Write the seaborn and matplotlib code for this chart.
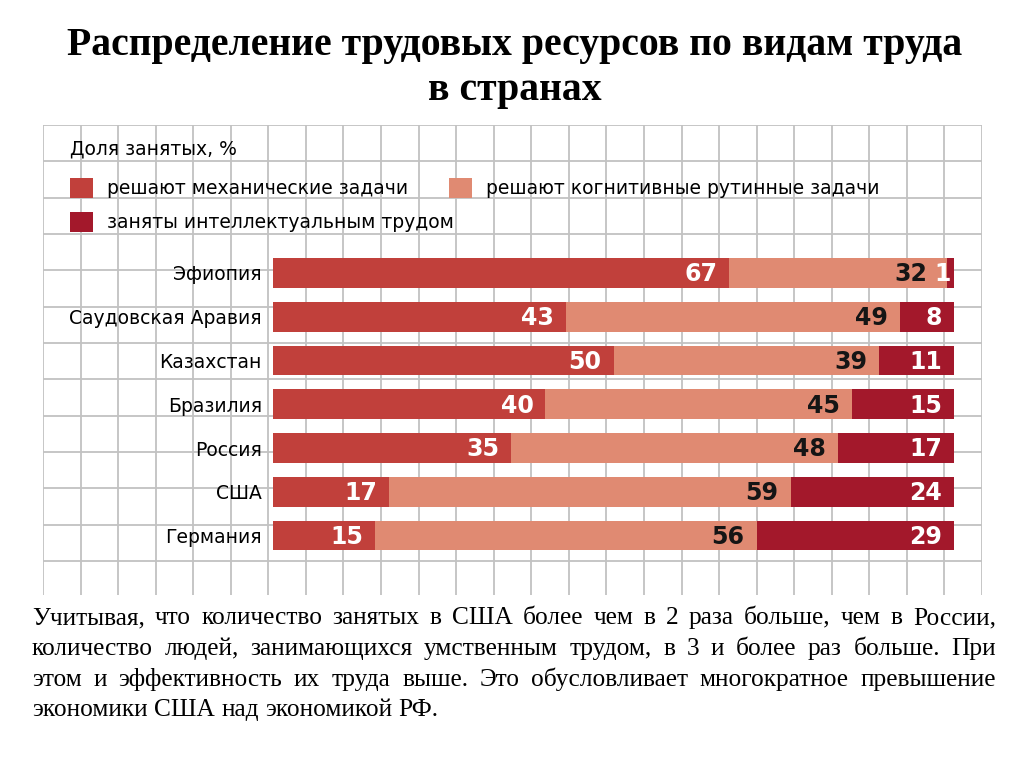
import numpy as np
import pandas as pd
import matplotlib
matplotlib.use("Agg")
import matplotlib.pyplot as plt
from matplotlib.patches import Patch
import seaborn as sns

# data
countries = ["Эфиопия", "Саудовская Аравия", "Казахстан", "Бразилия",
             "Россия", "США", "Германия"]
mechanical = [67, 43, 50, 40, 35, 17, 15]
cognitive = [32, 49, 39, 45, 48, 59, 56]
intellectual = [1, 8, 11, 15, 17, 24, 29]

series_names = ["решают механические задачи",
                "решают когнитивные рутинные задачи",
                "заняты интеллектуальным трудом"]
colors = ["#c1403b", "#e08a72", "#a3182b"]
label_colors = ["white", "#151515", "white"]

legend_title = "Доля занятых, %"
title_lines = ["Распределение трудовых ресурсов по видам труда", "в странах"]
text_lines = [
    "Учитывая, что количество занятых в США более чем в 2 раза больше, чем в России,",
    "количество  людей, занимающихся умственным трудом, в 3 и более раз больше. При",
    "этом и эффективность их труда выше. Это обусловливает многократное превышение",
    "экономики США над экономикой РФ.",
]

df = pd.DataFrame({"country": countries, "mech": mechanical,
                   "cog": cognitive, "intel": intellectual})
df["end_mech"] = df["mech"]
df["end_cog"] = df["mech"] + df["cog"]
df["end_intel"] = df["end_cog"] + df["intel"]

W, H = 1024, 767
fig = plt.figure(figsize=(W / 100, H / 100), dpi=100)


def fx(px):
    return px / W


def fy(py):
    return 1 - py / H


# squared paper background
ax_bg = fig.add_axes([fx(43), fy(595), fx(982) - fx(43), fy(125) - fy(595)])
ax_bg.set_xlim(0, 25)
ax_bg.set_ylim(12.94, 0)
ax_bg.set_xticks(np.arange(0, 26))
ax_bg.set_yticks(np.arange(0, 13))
ax_bg.grid(True, color="#c2c2c2", linewidth=1.3)
ax_bg.tick_params(length=0, labelbottom=False, labelleft=False)
for s in ax_bg.spines.values():
    s.set_visible(False)

# stacked bars, drawn back to front
ax = fig.add_axes([fx(273), fy(557.4), fx(954) - fx(273), fy(251.1) - fy(557.4)])
ax.patch.set_alpha(0)
for col, color in zip(["end_intel", "end_cog", "end_mech"], colors[::-1]):
    sns.barplot(data=df, x=col, y="country", color=color, saturation=1,
                width=0.675, errorbar=None, ax=ax)

ax.set_xlim(0, 100)
ax.set_ylim(6.5, -0.5)
ax.set_xlabel("")
ax.set_ylabel("")
ax.set_xticks([])
ax.tick_params(axis="y", length=0, pad=8, labelsize=13.5)
for s in ax.spines.values():
    s.set_visible(False)

px2pt = 72 / 100
for i, row in df.iterrows():
    vals = [row["mech"], row["cog"], row["intel"]]
    ends = [row["end_mech"], row["end_cog"], row["end_intel"]]
    for k, (v, e, c) in enumerate(zip(vals, ends, label_colors)):
        pad = -12
        if v < 3:
            # very thin segment: number sits right at the bar end
            pad = -3
        elif k < 2 and vals[k + 1] < 3:
            # leave room for the thin neighbour's number
            pad = -20
        ax.annotate(str(v), xy=(e, i), xytext=(pad * px2pt, -1), textcoords="offset points",
                    ha="right", va="center", fontsize=17, fontweight="bold", color=c)

# legend
fig.text(fx(70), fy(155), legend_title, ha="left", va="baseline", fontsize=13.5)
leg_kw = dict(loc="upper left", frameon=False, fontsize=13.5, handlelength=1.25,
              handleheight=1.25, handletextpad=0.72, labelspacing=0.75,
              borderaxespad=0, borderpad=0)
fig.legend([Patch(facecolor=colors[0]), Patch(facecolor=colors[2])],
           [series_names[0], series_names[2]],
           bbox_to_anchor=(fx(70), fy(178)), **leg_kw)
fig.legend([Patch(facecolor=colors[1])], [series_names[1]],
           bbox_to_anchor=(fx(449), fy(178)), **leg_kw)

# title
serif = "Liberation Serif"
fig.text(fx(515), fy(55), title_lines[0], ha="center", va="baseline",
         family=serif, fontweight="bold", fontsize=28.6)
fig.text(fx(515), fy(100), title_lines[1], ha="center", va="baseline",
         family=serif, fontweight="bold", fontsize=28.6)

# justified paragraph
renderer = fig.canvas.get_renderer()
x0, x1 = 32, 996
fs = 18.3
baselines = [624, 655, 686, 716]
for n, (line, yb) in enumerate(zip(text_lines, baselines)):
    words = line.split()
    texts = [fig.text(0, fy(yb), w, ha="left", va="baseline", family=serif, fontsize=fs)
             for w in words]
    widths = [t.get_window_extent(renderer).width for t in texts]
    if n < len(text_lines) - 1:
        gap = (x1 - x0 - sum(widths)) / (len(words) - 1)
    else:
        gap = fs * 100 / 72 * 0.25
    x = x0
    for t, w in zip(texts, widths):
        t.set_x(fx(x))
        x += w + gap

fig.savefig("out.png", dpi=100)
